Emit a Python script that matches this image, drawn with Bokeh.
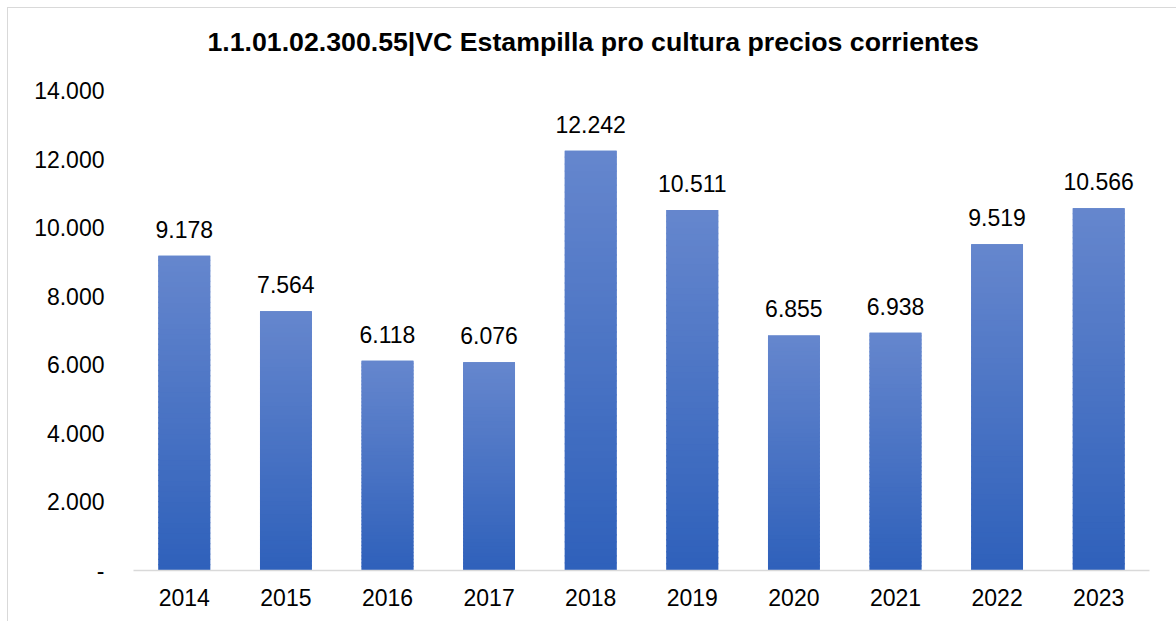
from bokeh.plotting import figure
from bokeh.models import Range1d, FactorRange, ColumnDataSource, LabelSet, Title
from bokeh.core.properties import value
from bokeh.embed import file_html
from bokeh.resources import INLINE

years = ["2014", "2015", "2016", "2017", "2018", "2019", "2020", "2021", "2022", "2023"]
values = [9178, 7564, 6118, 6076, 12242, 10511, 6855, 6938, 9519, 10566]
value_labels = ["9.178", "7.564", "6.118", "6.076", "12.242", "10.511", "6.855", "6.938", "9.519", "10.566"]
y_ticks = [0, 2000, 4000, 6000, 8000, 10000, 12000, 14000]
y_tick_labels = ["-", "2.000", "4.000", "6.000", "8.000", "10.000", "12.000", "14.000"]
title = "1.1.01.02.300.55|VC Estampilla pro cultura precios corrientes"

FONT = "Liberation Sans"
TOP_RGB = (0x66, 0x87, 0xCE)
BOT_RGB = (0x2F, 0x61, 0xBB)
MID = "#4a73c4"

p = figure(width=1168, height=613, x_range=FactorRange(*years, range_padding=0.0),
           y_range=Range1d(0, 14000), output_backend="svg", toolbar_location=None,
           min_border_left=125, min_border_right=27, min_border_top=82, min_border_bottom=51)
p.styles = {"outline": "1px solid #d9d9d9", "margin-left": "8px", "margin-top": "8px"}

# spacer panel between the frame and the title, pushing the title up
p.add_layout(Title(text=" ", text_font_size="1px", standoff=16), "above")

p.title.text = title
p.title.align = "left"
p.title.offset = 74
p.title.text_font = FONT
p.title.text_font_size = "26.7px"
p.title.text_font_style = "bold"
p.title.text_color = "#000000"
p.title.standoff = 30

# solid base bar, then gradient slices over it (each overlapping the next)
p.vbar(x=years, bottom=0, top=values, width=0.51, fill_color=MID, line_color=None)
N = 60
OVER = 40
xs, bots, tops, cols = [], [], [], []
for i in range(N):
    t = (i + 0.5) / N  # 0 bottom -> 1 top
    r = int(BOT_RGB[0] + (TOP_RGB[0] - BOT_RGB[0]) * t)
    g = int(BOT_RGB[1] + (TOP_RGB[1] - BOT_RGB[1]) * t)
    b = int(BOT_RGB[2] + (TOP_RGB[2] - BOT_RGB[2]) * t)
    c = "#%02x%02x%02x" % (r, g, b)
    for yr, v in zip(years, values):
        xs.append(yr)
        bots.append(v * i / N)
        tops.append(min(v, v * (i + 1) / N + OVER))
        cols.append(c)
src = ColumnDataSource(dict(x=xs, bottom=bots, top=tops, color=cols))
p.vbar(x="x", bottom="bottom", top="top", width=0.51, fill_color="color",
       line_color=None, source=src)

lab_src = ColumnDataSource(dict(x=years, y=values, t=value_labels))
p.add_layout(LabelSet(x="x", y="y", text="t", source=lab_src, y_offset=18,
                      text_align="center", text_baseline="bottom",
                      text_font=value(FONT), text_font_size=value("23px"),
                      text_color="#000000"))

p.xgrid.grid_line_color = None
p.ygrid.grid_line_color = None
p.outline_line_color = None

p.xaxis.axis_line_color = "#d9d9d9"
p.xaxis.axis_line_width = 1.5
p.xaxis.major_tick_line_color = None
p.xaxis.minor_tick_line_color = None
p.xaxis.major_label_text_font = FONT
p.xaxis.major_label_text_font_size = "23px"
p.xaxis.major_label_text_color = "#000000"
p.xaxis.major_label_standoff = 12

p.yaxis.axis_line_color = None
p.yaxis.major_tick_line_color = None
p.yaxis.minor_tick_line_color = None
p.yaxis.ticker = y_ticks
p.yaxis.major_label_overrides = {k: v for k, v in zip(y_ticks, y_tick_labels)}
p.yaxis.major_label_text_font = FONT
p.yaxis.major_label_text_font_size = "23px"
p.yaxis.major_label_text_color = "#000000"
p.yaxis.major_label_standoff = 23

open("out.html", "w").write(file_html(p, INLINE))
